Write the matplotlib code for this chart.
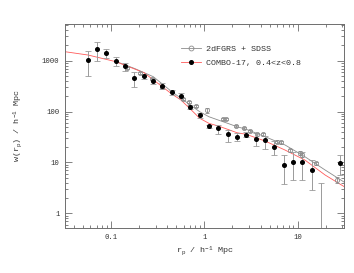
import numpy as np
import matplotlib.pyplot as plt
from matplotlib.lines import Line2D
from matplotlib.ticker import LogLocator, FuncFormatter, NullFormatter

plt.rcParams['font.family'] = ['Liberation Mono', 'DejaVu Sans Mono']
plt.rcParams['mathtext.default'] = 'regular'

# COMBO-17, 0.4<z<0.8 : projected correlation function
rp_combo = [0.0562, 0.0708, 0.0891, 0.112, 0.141, 0.178, 0.224, 0.282, 0.355, 0.447,
            0.562, 0.708, 0.891, 1.12, 1.41, 1.78, 2.24, 2.82, 3.55, 4.47,
            5.62, 7.08, 8.91, 11.2, 14.1, 17.8, 28.2]
w_combo = [1010, 1667, 1410, 969, 783, 455, 498, 397, 321, 238,
           204, 124, 84, 51, 47, 36, 32, 35, 28.8, 27.5,
           20.3, 8.8, 10.2, 10.2, 7.1, 0.3, 9.6]
w_combo_hi = [1545, 2372, 1690, 1204, 918, 597, 553, 441, 368, 264,
              226, 137, 93.5, 54.8, 54.3, 43.3, 37.8, 40.1, 37.3, 33.5,
              26.7, 14.0, 16.0, 16.0, 11.1, 3.9, 14.0]
w_combo_lo = [498, 982, 1125, 783, 639, 299, 435, 342, 273, 211,
              184, 112, 76, 47.8, 36.1, 25.5, 26.3, 31.6, 21.0, 18.1,
              14.0, 3.8, 4.5, 4.5, 2.9, 0.01, 5.7]

# 2dFGRS + SDSS
rp_local = [0.148, 0.205, 0.275, 0.355, 0.596, 0.686, 0.821, 1.077, 1.57, 1.72,
            2.20, 2.64, 3.07, 3.65, 4.29, 5.97, 6.59, 8.29, 10.6, 11.2, 15.6, 26.2]
w_local = [716, 570, 437, 307, 176, 156, 128, 105, 71, 71,
           51.9, 48.0, 41.4, 35.6, 35.6, 25.5, 24.8, 17.5, 15.5, 14.0, 9.6, 4.5]
w_local_err = [30, 25, 20, 12, 7, 6, 5, 12, 3, 3,
               2.5, 2.5, 2, 2, 2, 1.5, 1.5, 1.2, 1.2, 1.0, 0.8, 0.6]

# model curves
rp_red = [0.0321, 0.0567, 0.113, 0.226, 0.448, 0.562, 0.708, 0.893, 1.12, 1.41,
          1.78, 2.24, 2.82, 4.48, 7.33, 12.0, 19.7, 31.4]
w_red = [1496, 1288, 951, 578, 221, 168, 112, 73.5, 58.6, 51.9,
         44.7, 38.3, 35.6, 26.3, 17.5, 11.1, 5.66, 3.36]
rp_grey = [0.11, 0.125, 0.179, 0.284, 0.448, 0.708, 0.893, 1.12, 1.41, 1.78,
           2.24, 2.82, 4.48, 7.33, 12.0, 19.7, 31.4]
w_grey = [990, 897, 700, 483, 245, 134, 99, 79, 68, 58.6,
          50.3, 44.7, 32.0, 22.0, 12.9, 7.1, 4.12]

red = '#ff5a5a'
grey = '#8c8c8c'
axcol = '#6e6e6e'

fig = plt.figure(figsize=(3.54, 2.73), dpi=100)
ax = fig.add_axes([65 / 354, 1 - 228 / 273, 279 / 354, 204 / 273])

ax.plot(rp_grey, w_grey, color=grey, lw=0.6)
ax.plot(rp_red, w_red, color=red, lw=0.6)

ax.errorbar(rp_local, w_local, yerr=w_local_err, fmt='o', ms=3, mfc='none', mec=grey,
            mew=0.6, ecolor=grey, elinewidth=0.6, capsize=1.5, capthick=0.6)

w_arr = np.array(w_combo)
yerr = [w_arr - np.array(w_combo_lo), np.array(w_combo_hi) - w_arr]
ax.errorbar(rp_combo, w_combo, yerr=yerr, fmt='o', ms=2.6, mfc='k', mec='k',
            ecolor='#9a9a9a', elinewidth=0.7, capsize=2, capthick=0.6)

ax.set_xscale('log')
ax.set_yscale('log')
ax.set_xlim(0.0321, 31.4)
ax.set_ylim(0.515, 5240)

fmt = FuncFormatter(lambda v, _: f'{v:g}')
for axis in (ax.xaxis, ax.yaxis):
    axis.set_major_locator(LogLocator(base=10))
    axis.set_minor_locator(LogLocator(base=10, subs=np.arange(2, 10)))
    axis.set_major_formatter(fmt)
    axis.set_minor_formatter(NullFormatter())

ax.tick_params(which='both', direction='in', top=True, right=True, colors=axcol,
               labelcolor='#333333', labelsize=5.2, width=0.6)
ax.tick_params(which='major', length=5, pad=4)
ax.tick_params(which='minor', length=2.5)
for s in ax.spines.values():
    s.set_color(axcol)
    s.set_linewidth(0.7)

ax.set_xlabel('r$_p$ / h$^{-1}$ Mpc', fontsize=6, color='#333333')
ax.set_ylabel('w(r$_p$) / h$^{-1}$ Mpc', fontsize=6, color='#333333')
ax.xaxis.set_label_coords(0.5, -(245 - 228) / 204)
ax.yaxis.set_label_coords(-(65 - 25) / 279, 0.5)

handles = [
    Line2D([], [], color=grey, lw=0.6, marker='o', ms=3.5, mfc='none', mec=grey, mew=0.6),
    Line2D([], [], color=red, lw=0.6, marker='o', ms=2.6, mfc='k', mec='k'),
]
labels = ['2dFGRS + SDSS', 'COMBO-17, 0.4<z<0.8']
ax.legend(handles, labels, loc='upper left', bbox_to_anchor=(0.39, 0.935), frameon=False,
          fontsize=6, handlelength=2.4, handletextpad=0.55, labelspacing=0.75,
          labelcolor='#333333')

fig.savefig('out.png', dpi=100)
